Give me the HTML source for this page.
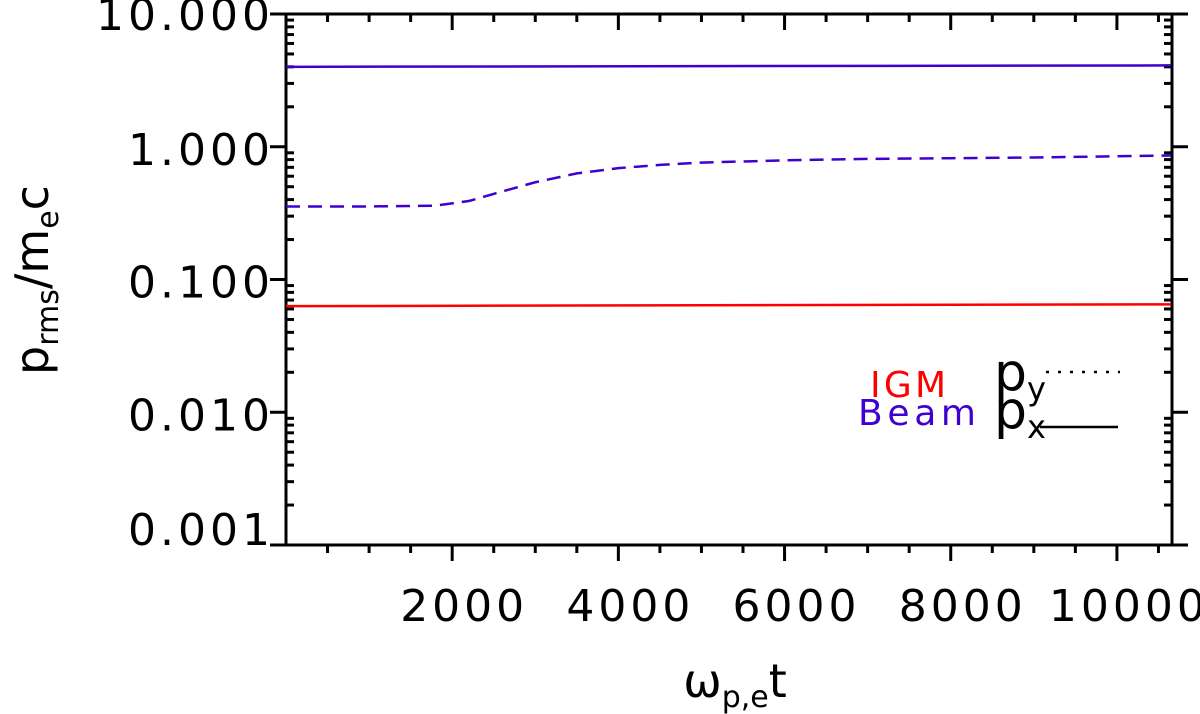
<!DOCTYPE html>
<html><head><meta charset="utf-8"><style>
body{margin:0;background:#fff}
svg{display:block;font-family:"DejaVu Sans","Liberation Sans",sans-serif}
</style></head><body>
<svg id="c" width="1200" height="714"></svg>
<script>
const xTicks=[2000,4000,6000,8000,10000];
const yTicks=[0.001,0.01,0.1,1,10];
const yTickLabels=["0.001","0.010","0.100","1.000","10.000"];
const beamPxX=[0,10650];
const beamPxY=[4.0,4.1];
const igmPxX=[0,10650];
const igmPxY=[0.063,0.065];
const beamPyX=[0,1000,1800,2200,2600,3000,3500,4000,4500,5000,6000,7000,8000,9000,10650];
const beamPyY=[0.355,0.355,0.36,0.39,0.46,0.54,0.63,0.69,0.73,0.76,0.79,0.81,0.82,0.83,0.86];
const L=286,R=1172,T=14,B=545;
const X0=0,X1=10663;
const sx=v=>L+(v-X0)/(X1-X0)*(R-L);
const sy=v=>B-(Math.log10(v)+3)/4*(B-T);
const svg=document.getElementById('c');
const NS='http://www.w3.org/2000/svg';
function mk(t,a,p){const e=document.createElementNS(NS,t);for(const k in a)e.setAttribute(k,a[k]);(p||svg).appendChild(e);return e;}
let e;
e=mk('rect',{x:L,y:T,width:R-L,height:B-T,fill:'none',stroke:'#000','stroke-width':3});


for(let v=500;v<X1;v+=500){const maj=v%2000===0;const len=maj?16:8;
 e=mk('line',{x1:sx(v),x2:sx(v),y1:B,y2:B+len,stroke:'#000','stroke-width':3});
 
 
 e=mk('line',{x1:sx(v),x2:sx(v),y1:T,y2:T+len,stroke:'#000','stroke-width':3});
 
 }
xTicks.forEach(v=>{e=mk('text',{x:sx(v)+12,y:621,'text-anchor':'middle','font-size':44,'letter-spacing':4});e.textContent=v;
 
 });
yTicks.forEach((v,i)=>{
 [[L,L-16],[R,R+16]].forEach(([a,b])=>{e=mk('line',{x1:a,x2:b,y1:sy(v),y2:sy(v),stroke:'#000','stroke-width':3});
 
 });
 if(i<yTicks.length-1){for(let m=2;m<10;m++){const y=sy(v*m);
  [[L,L+8],[R,R-8]].forEach(([a,b])=>{e=mk('line',{x1:a,x2:b,y1:y,y2:y,stroke:'#000','stroke-width':3});
  
  });}}
 const dy=i===0?0:(i===yTicks.length-1?16:18);
 e=mk('text',{x:274,y:sy(v)+dy,'text-anchor':'end','font-size':44,'letter-spacing':4});e.textContent=yTickLabels[i];
 
 
});
function line(xs,ys,col,dash,name){const d=xs.map((x,i)=>(i?'L':'M')+sx(x)+' '+sy(ys[i])).join(' ');
 const p=mk('path',{d:d,fill:'none',stroke:col,'stroke-width':2.5,'stroke-dasharray':dash||'none'});
 
 }
line(beamPxX,beamPxY,'#3f00d0',null,'beam-px-line');
line(igmPxX,igmPxY,'#ff0000',null,'igm-px-line');
line(beamPyX,beamPyY,'#3f00d0','14 8','beam-py-line');
</script>
<script>
(function(){const svg=document.getElementById('c');const NS='http://www.w3.org/2000/svg';
const g=document.createElementNS(NS,'g');svg.appendChild(g);


g.innerHTML=
'<text x="870" y="397" font-size="36" fill="#ff0000" textLength="76">IGM</text>'+
'<text x="858" y="425" font-size="36" fill="#3f00d0" textLength="118">Beam</text>'+
'<text x="994" y="390" font-size="52">p<tspan font-size="32" dy="10">y</tspan></text>'+
'<line x1="1046" x2="1120" y1="372" y2="372" stroke="#000" stroke-width="2.5" stroke-dasharray="3 9"/>'+
'<text x="994" y="428" font-size="52">p<tspan font-size="32" dy="10">x</tspan></text>'+
'<line x1="1040" x2="1118" y1="427" y2="427" stroke="#000" stroke-width="2.5"/>'+
'<text transform="translate(48,280) rotate(-90)" text-anchor="middle" font-size="46">p<tspan font-size="30" dy="10">rms</tspan><tspan dy="-10">/m</tspan><tspan font-size="30" dy="10">e</tspan><tspan dy="-10">c</tspan></text>'+
'<text x="735" y="697" text-anchor="middle" font-size="46">ω<tspan font-size="30" dy="10">p,e</tspan><tspan dy="-10">t</tspan></text>';
})();
</script>
</body></html>
